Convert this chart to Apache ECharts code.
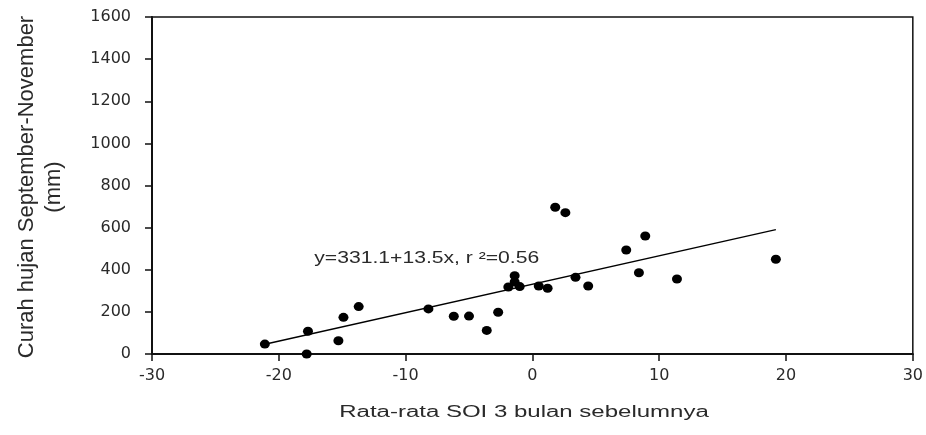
<!DOCTYPE html>
<html>
<head>
<meta charset="utf-8">
<script src="https://cdn.jsdelivr.net/npm/echarts@6/dist/echarts.min.js"></script>
<style>
  html, body { margin: 0; padding: 0; background: #fff; }
  #chart { width: 926px; height: 435px; }
</style>
</head>
<body>
<div id="chart"></div>
<script>
// Average SOI of the previous 3 months vs. Sep–Nov rainfall (mm)
const soi = [-21.1, -17.8, -17.7, -15.3, -14.9, -13.7, -8.2, -6.2, -5.0, -3.6, -2.7,
             -1.4, -1.4, -1.9, -1.0, 0.5, 1.2, 1.8, 2.6, 3.4, 4.4, 7.4, 8.4, 8.9, 11.4, 19.2];
const rainfall = [47, 0, 108, 63, 174, 225, 214, 179, 180, 112, 198,
                  372, 342, 318, 320, 323, 312, 697, 671, 364, 323, 494, 386, 560, 356, 450];

// Fitted regression: y = 331.1 + 13.5x, r² = 0.56
const intercept = 331.1;
const slope = 13.5;
const fitLabel = 'y=331.1+13.5x, r \u00B2=0.56';

const xTitle = 'Rata-rata SOI 3 bulan sebelumnya';
const yTitle = 'Curah hujan September-November\n(mm)';

const points = soi.map((x, i) => [x, rainfall[i]]);
const xMin = Math.min(...soi);
const xMax = Math.max(...soi);
const fitLine = [xMin, xMax].map(x => [x, intercept + slope * x]);

const chart = echarts.init(document.getElementById('chart'), null, { renderer: 'canvas' });

const tickFont = { fontFamily: 'DejaVu Sans', fontSize: 16, color: '#2a2a2a' };
const plainNumber = v => String(v);

chart.setOption({
  backgroundColor: '#ffffff',
  animation: false,
  grid: {
    left: 152, right: 13, top: 17, bottom: 81,
    show: true, borderColor: '#111', borderWidth: 1.5, backgroundColor: 'transparent'
  },
  xAxis: {
    type: 'value', min: -30, max: 30, interval: 10,
    axisLine: { onZero: false, lineStyle: { color: '#111', width: 2 } },
    axisTick: { show: true, length: 7, inside: false, lineStyle: { color: '#111', width: 1.5 } },
    axisLabel: Object.assign({ margin: 14, formatter: plainNumber }, tickFont),
    splitLine: { show: false }
  },
  yAxis: {
    type: 'value', min: 0, max: 1600, interval: 200,
    axisLine: { show: true, onZero: false, lineStyle: { color: '#111', width: 2 } },
    axisTick: { show: true, length: 7, inside: false, lineStyle: { color: '#111', width: 1.5 } },
    axisLabel: Object.assign({ margin: 21, formatter: plainNumber }, tickFont),
    splitLine: { show: false }
  },
  series: [
    {
      type: 'line',
      data: fitLine,
      symbol: 'none',
      lineStyle: { color: '#000', width: 1.3 },
      z: 2
    },
    {
      type: 'scatter',
      data: points,
      symbol: 'circle',
      symbolSize: [10, 9],
      itemStyle: { color: '#000', opacity: 1 },
      clip: false,
      z: 3
    }
  ]
});

// Titles and the regression annotation, placed relative to the axes
const anchor = chart.convertToPixel({ gridIndex: 0 }, [-17.2, 451]);
const textColor = '#2a2a2a';
chart.setOption({
  graphic: [
    {
      type: 'text',
      x: anchor[0], y: anchor[1],
      scaleX: 1.32,
      style: {
        text: fitLabel,
        font: '16px "Liberation Sans"',
        fill: textColor,
        textAlign: 'left', textVerticalAlign: 'middle',
        align: 'left', verticalAlign: 'middle'
      }
    },
    {
      type: 'text',
      x: 524, y: 413,
      scaleX: 1.5,
      style: {
        text: xTitle,
        font: '16px "Liberation Sans"',
        fill: textColor,
        textAlign: 'center', textVerticalAlign: 'middle',
        align: 'center', verticalAlign: 'middle'
      }
    },
    {
      type: 'text',
      x: 40, y: 187,
      rotation: Math.PI / 2,
      style: {
        text: yTitle,
        font: '22px "Liberation Sans"',
        lineHeight: 27,
        fill: textColor,
        textAlign: 'center', textVerticalAlign: 'middle',
        align: 'center', verticalAlign: 'middle'
      }
    }
  ]
});
</script>
</body>
</html>
